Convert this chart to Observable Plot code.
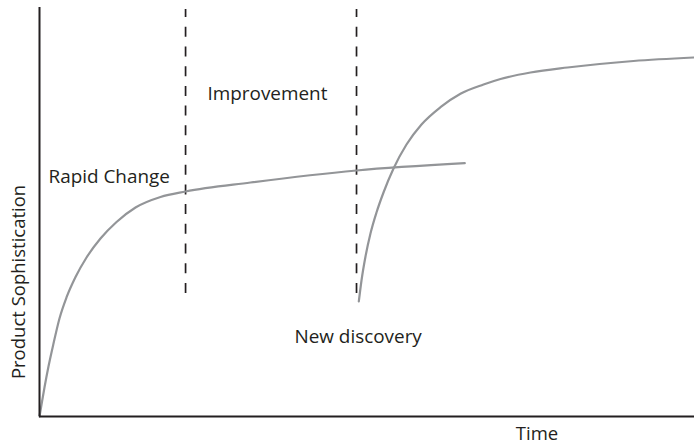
<!DOCTYPE html>
<html>
<head>
<meta charset="utf-8">
<script src="https://cdn.jsdelivr.net/npm/d3@7"></script>
<script src="https://cdn.jsdelivr.net/npm/@observablehq/plot@0.6"></script>
<style>
  html, body { margin: 0; padding: 0; background: #fff; }
  #chart svg { display: block; }
</style>
</head>
<body>
<div id="chart"></div>
<script>
// First technology curve (time 0-100, sophistication 0-100)
const curve1Time = [0, 0.31, 0.76, 1.37, 2.14, 3.05, 4.12, 5.50, 7.18, 9.31, 11.76, 14.66, 18.47, 22.29, 32.21, 48.40, 64.93];
const curve1Value = [0, 2.93, 7.09, 12.22, 17.85, 23.96, 29.10, 34.11, 38.88, 43.52, 47.56, 51.10, 53.67, 55.01, 57.21, 60.15, 61.93];

// Second technology curve (new discovery)
const curve2Time = [48.75, 49.16, 49.77, 50.53, 51.45, 52.52, 54.05, 56.03, 58.32, 61.22, 64.27, 67.79, 70.38, 74.96, 80.61, 90.69, 99.85];
const curve2Value = [28.12, 33.25, 39.12, 44.74, 49.88, 54.77, 60.64, 66.50, 71.39, 75.62, 78.90, 81.17, 82.52, 84.11, 85.33, 86.92, 87.78];

// Phase boundaries (dashed)
const boundaryTime = [22.3, 48.4];
const boundaryTop = 99.5;
const boundaryBottom = 30.1;

// Annotations
const labelTexts = ["Rapid Change", "Improvement", "New discovery"];
const labelTime = [1.37, 25.65, 38.93];
const labelValue = [57.2, 77.5, 17.85];

const xAxisLabel = "Time";
const yAxisLabel = "Product Sophistication";
const xLabelPos = [75.95, -5.7];
const yLabelPos = [-2.14, 32.9];

const c1 = curve1Time.map((t, i) => ({t, v: curve1Value[i]}));
const c2 = curve2Time.map((t, i) => ({t, v: curve2Value[i]}));
const bounds = boundaryTime.map(t => ({t, y1: boundaryBottom, y2: boundaryTop}));
const labels = labelTexts.map((s, i) => ({s, t: labelTime[i], v: labelValue[i]}));

const font = "'Open Sans', 'Noto Sans', sans-serif";
const ink = "#231f20";
const gray = "#939598";

const chart = Plot.plot({
  width: 694,
  height: 445,
  marginLeft: 39,
  marginRight: 0,
  marginTop: 7,
  marginBottom: 29,
  style: {fontFamily: font, background: "#fff", overflow: "visible"},
  x: {domain: [0, 100], axis: null},
  y: {domain: [0, 100], axis: null},
  marks: [
    Plot.ruleX(bounds, {x: "t", y1: "y1", y2: "y2", stroke: ink, strokeWidth: 1.7, strokeDasharray: "10,9.7"}),
    Plot.line(c1, {x: "t", y: "v", stroke: gray, strokeWidth: 2.2, curve: "monotone-x"}),
    Plot.line(c2, {x: "t", y: "v", stroke: gray, strokeWidth: 2.2, curve: "monotone-x"}),
    Plot.ruleX([0], {y1: 0, y2: 100, stroke: ink, strokeWidth: 2}),
    Plot.ruleY([0], {x1: 0, x2: 100, stroke: ink, strokeWidth: 2}),
    Plot.text(labels, {x: "t", y: "v", text: "s", textAnchor: "start", lineAnchor: "bottom", fontSize: 18.9, fill: ink}),
    Plot.text([xAxisLabel], {x: xLabelPos[0], y: xLabelPos[1], text: d => d, textAnchor: "middle", lineAnchor: "bottom", fontSize: 18.5, fill: ink}),
    Plot.text([yAxisLabel], {x: yLabelPos[0], y: yLabelPos[1], text: d => d, textAnchor: "middle", lineAnchor: "bottom", rotate: -90, fontSize: 18.5, fill: ink})
  ]
});
document.getElementById("chart").appendChild(chart);
</script>
</body>
</html>
